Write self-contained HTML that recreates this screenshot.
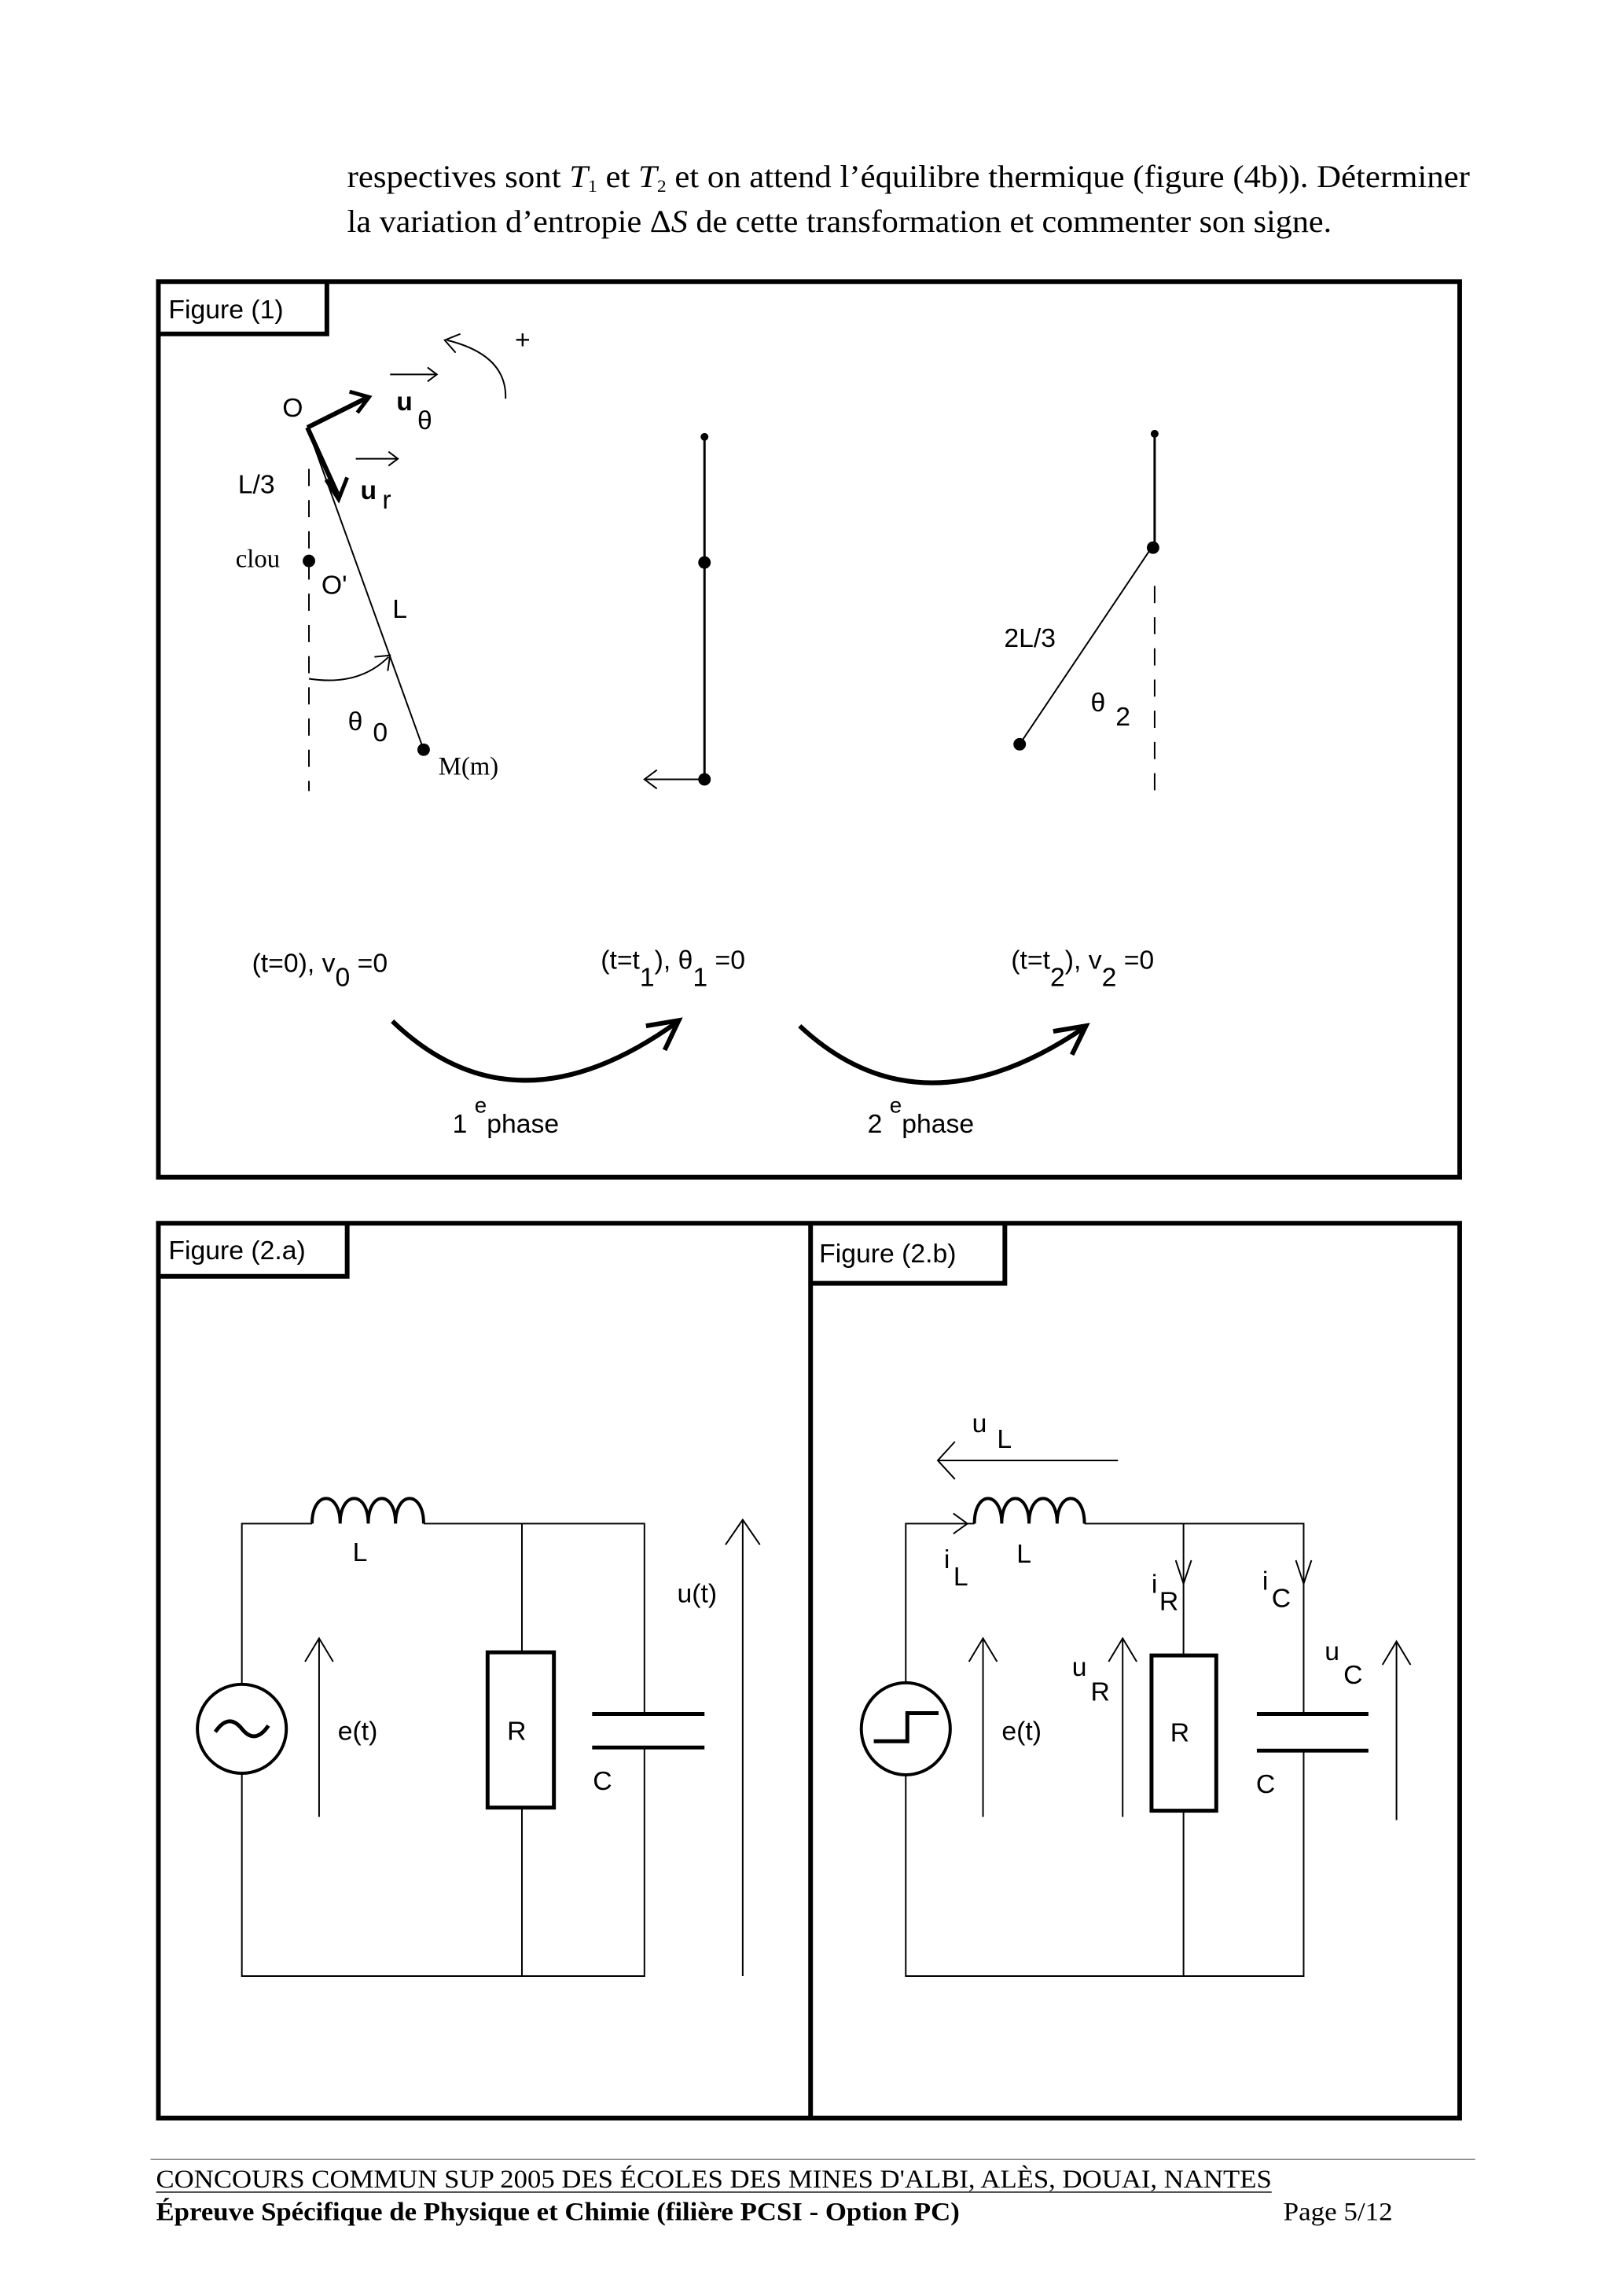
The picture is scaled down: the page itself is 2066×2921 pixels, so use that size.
<!DOCTYPE html>
<html><head><meta charset="utf-8"><style>
html,body{margin:0;padding:0;background:#fff}
svg{display:block}
.s{font-family:"Liberation Sans",sans-serif;font-size:34px;fill:#000}
.t{font-family:"Liberation Serif",serif;font-size:40px;fill:#000}
.f{font-family:"Liberation Serif",serif;font-size:33px;fill:#000}
</style></head><body>
<svg width="2066" height="2921" viewBox="0 0 2066 2921" xmlns="http://www.w3.org/2000/svg">
<g transform="scale(0.9925)">
<text class="t" x="445" y="240" textLength="1439" lengthAdjust="spacingAndGlyphs">respectives sont <tspan font-style="italic">T</tspan><tspan font-size="22" dy="6">1</tspan><tspan dy="-6"> et </tspan><tspan font-style="italic">T</tspan><tspan font-size="22" dy="6">2</tspan><tspan dy="-6"> et on attend l’équilibre thermique (figure (4b)). Déterminer</tspan></text>
<text class="t" x="445" y="297" textLength="1262" lengthAdjust="spacingAndGlyphs">la variation d’entropie  Δ<tspan font-style="italic">S</tspan>  de cette transformation et commenter son signe.</text>

<g fill="none" stroke="#000">
<rect x="203" y="361" width="1668" height="1148" stroke-width="6"/>
<path d="M203 428 H419 V361" stroke-width="6"/>
<rect x="203" y="1568" width="1668" height="1147" stroke-width="6"/>
<line x1="1039" y1="1568" x2="1039" y2="2715" stroke-width="6"/>
<path d="M203 1636 H445 V1568" stroke-width="6"/>
<path d="M1039 1645 H1288 V1568" stroke-width="6"/>
</g>
<text class="s" x="216" y="408">Figure (1)</text>
<text class="s" x="216" y="1614">Figure (2.a)</text>
<text class="s" x="1050" y="1618">Figure (2.b)</text>

<g stroke="#000" fill="none">
<line x1="394" y1="548" x2="543" y2="961" stroke-width="2"/>
<line x1="396" y1="601" x2="396" y2="1014" stroke-width="2" stroke-dasharray="22,18"/>
<line x1="394" y1="548" x2="470" y2="510" stroke-width="6"/>
<path d="M448 502 L473 509 L458 529" stroke-width="5"/>
<line x1="394" y1="548" x2="433" y2="634" stroke-width="6"/>
<path d="M418 615 L434 640 L445 612" stroke-width="5"/>
<path d="M648 511 Q650 455 573 436" stroke-width="2"/>
<path d="M590 428 L570 436 L584 452" stroke-width="2"/>
<path d="M396 870 Q460 880 498 842" stroke-width="2"/>
<path d="M480 842 L500 840 L497 860" stroke-width="2"/>
<path d="M500 480 H560 M548 471 L560 480 L548 489" stroke-width="2"/>
<path d="M456 588 H510 M498 579 L510 588 L498 597" stroke-width="2"/>
<line x1="903" y1="560" x2="903" y2="999" stroke-width="3"/>
<path d="M903 999 H826 M842 987 L826 999 L842 1011" stroke-width="2"/>
<line x1="1480" y1="556" x2="1480" y2="702" stroke-width="3"/>
<line x1="1476" y1="702" x2="1307" y2="954" stroke-width="2"/>
<line x1="1480" y1="751" x2="1480" y2="1014" stroke-width="2" stroke-dasharray="22,18"/>
<path d="M503 1309 Q660 1460 868 1310" stroke-width="6"/>
<path d="M828 1315 L870 1308 L852 1346" stroke-width="6"/>
<path d="M1025 1315 Q1180 1460 1390 1317" stroke-width="6"/>
<path d="M1350 1322 L1392 1315 L1374 1352" stroke-width="6"/>
</g>
<g fill="#000">
<circle cx="396" cy="719" r="8"/><circle cx="543" cy="961" r="8"/>
<circle cx="903" cy="560" r="5"/><circle cx="903" cy="721" r="8"/><circle cx="903" cy="999" r="8"/>
<circle cx="1480" cy="556" r="5"/><circle cx="1478" cy="702" r="8"/><circle cx="1307" cy="954" r="8"/>
</g>
<text class="s" x="362" y="534">O</text>
<text class="s" x="508" y="526" font-weight="bold">u</text><text class="s" x="535" y="550" font-size="28">θ</text>
<text class="s" x="660" y="447">+</text>
<text class="s" x="305" y="632">L/3</text>
<text class="s" x="462" y="640" font-weight="bold">u</text><text class="s" x="490" y="652" font-size="28">r</text>
<text class="f" x="302" y="727">clou</text>
<text class="s" x="412" y="761">O'</text>
<text class="s" x="503" y="792">L</text>
<text class="s" x="446" y="936" font-size="28">θ</text><text class="s" x="478" y="950">0</text>
<text class="f" x="562" y="993">M(m)</text>
<text class="s" x="1287" y="829">2L/3</text>
<text class="s" x="1398" y="912" font-size="28">θ</text><text class="s" x="1430" y="930">2</text>
<text class="s" x="323" y="1246">(t=0), v<tspan dy="18">0</tspan><tspan dy="-18"> =0</tspan></text>
<text class="s" x="770" y="1242">(t=t<tspan dy="22">1</tspan><tspan dy="-22">), θ</tspan><tspan dy="22">1</tspan><tspan dy="-22"> =0</tspan></text>
<text class="s" x="1296" y="1242">(t=t<tspan dy="22">2</tspan><tspan dy="-22">), v</tspan><tspan dy="22">2</tspan><tspan dy="-22">  =0</tspan></text>
<text class="s" x="580" y="1452">1 <tspan dy="-26" font-size="28">e</tspan><tspan dy="26">phase</tspan></text>
<text class="s" x="1112" y="1452">2 <tspan dy="-26" font-size="28">e</tspan><tspan dy="26">phase</tspan></text>

<g stroke="#000" fill="none" stroke-width="2">
<path d="M310 2159 V1953 H400 M543 1953 H826 V2197 M826 2240 V2533 H310 V2273"/>
<path d="M400 1953 C400 1910 436 1910 436 1953 C436 1910 472 1910 472 1953 C472 1910 507 1910 507 1953 C507 1910 543 1910 543 1953" stroke-width="4"/>
<path d="M669 1953 V2118 M669 2317 V2533"/>
<rect x="625" y="2118" width="85" height="199" stroke-width="5"/>
<path d="M759 2197 H903 M759 2240 H903" stroke-width="5"/>
<ellipse cx="310" cy="2216" rx="57" ry="57" stroke-width="4"/>
<path d="M276 2220 Q293 2195 310 2216 Q327 2237 344 2212" stroke-width="5"/>
<path d="M409 2329 V2100 M391 2130 L409 2100 L427 2130"/>
<path d="M952 2533 V1948 M930 1980 L952 1948 L974 1980"/>
</g>
<text class="s" x="452" y="2001">L</text>
<text class="s" x="433" y="2230">e(t)</text>
<text class="s" x="650" y="2230">R</text>
<text class="s" x="760" y="2294">C</text>
<text class="s" x="868" y="2054">u(t)</text>

<g stroke="#000" fill="none" stroke-width="2">
<path d="M1161 2159 V1953 H1249 M1390 1953 H1671 V2197 M1671 2244 V2533 H1161 V2273"/>
<path d="M1249 1953 C1249 1910 1284 1910 1284 1953 C1284 1910 1319 1910 1319 1953 C1319 1910 1355 1910 1355 1953 C1355 1910 1390 1910 1390 1953" stroke-width="4"/>
<path d="M1517 1953 V2122 M1517 2321 V2533"/>
<rect x="1476" y="2122" width="83" height="199" stroke-width="5"/>
<path d="M1611 2197 H1754 M1611 2244 H1754" stroke-width="5"/>
<ellipse cx="1161" cy="2216" rx="57" ry="59" stroke-width="4"/>
<path d="M1120 2232 H1163 V2196 H1203" stroke-width="5"/>
<path d="M1260 2329 V2100 M1242 2130 L1260 2100 L1278 2130"/>
<path d="M1439 2329 V2100 M1421 2130 L1439 2100 L1457 2130"/>
<path d="M1790 2333 V2104 M1772 2134 L1790 2104 L1808 2134"/>
<path d="M1433 1872 H1202 M1224 1848 L1202 1872 L1224 1896"/>
<path d="M1222 1940 L1240 1953 L1222 1966"/>
<path d="M1507 2000 L1517 2030 L1527 2000 M1661 2000 L1671 2030 L1681 2000"/>
</g>
<text class="s" x="1246" y="1836" font-size="28">u</text><text class="s" x="1278" y="1856">L</text>
<text class="s" x="1210" y="2010" font-size="28">i</text><text class="s" x="1222" y="2032">L</text>
<text class="s" x="1303" y="2003">L</text>
<text class="s" x="1476" y="2042" font-size="28">i</text><text class="s" x="1486" y="2064">R</text>
<text class="s" x="1618" y="2038" font-size="28">i</text><text class="s" x="1630" y="2060">C</text>
<text class="s" x="1374" y="2148" font-size="28">u</text><text class="s" x="1398" y="2180">R</text>
<text class="s" x="1698" y="2128" font-size="28">u</text><text class="s" x="1722" y="2158">C</text>
<text class="s" x="1284" y="2230">e(t)</text>
<text class="s" x="1500" y="2232">R</text>
<text class="s" x="1610" y="2298">C</text>

<line x1="193" y1="2768" x2="1891" y2="2768" stroke="#888" stroke-width="1.5"/>
<text class="f" x="200" y="2804" textLength="1430" lengthAdjust="spacingAndGlyphs">CONCOURS COMMUN SUP 2005 DES ÉCOLES DES MINES D'ALBI, ALÈS, DOUAI, NANTES</text>
<line x1="200" y1="2810" x2="1630" y2="2810" stroke="#000" stroke-width="1.5"/>
<text class="f" x="200" y="2846" font-weight="bold" textLength="1030" lengthAdjust="spacingAndGlyphs">Épreuve Spécifique de Physique et Chimie (filière PCSI - Option PC)</text>
<text class="f" x="1645" y="2846" textLength="140" lengthAdjust="spacingAndGlyphs">Page 5/12</text>
</g>
</svg>
</body></html>
